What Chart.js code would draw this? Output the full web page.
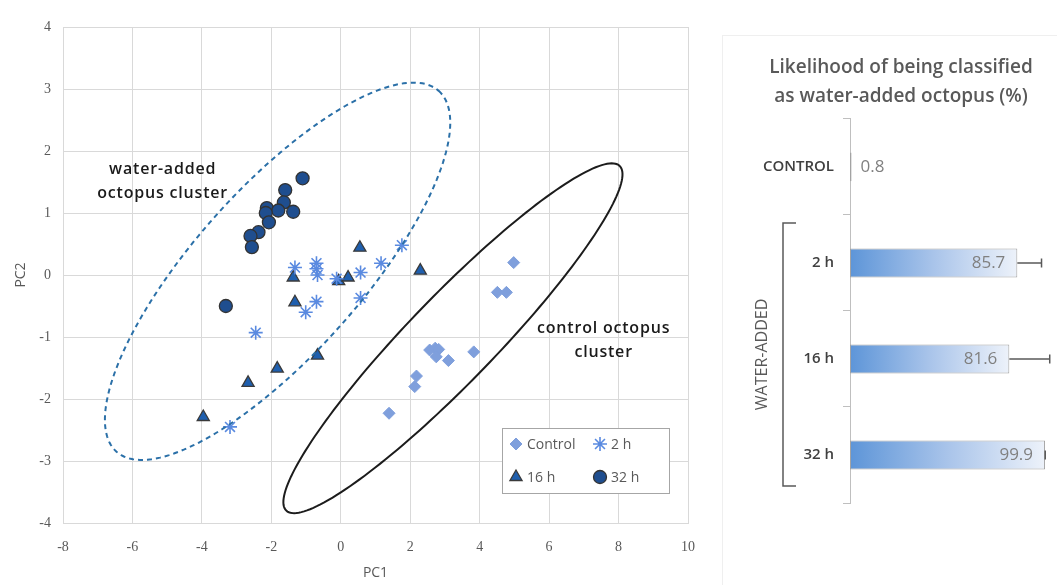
<!DOCTYPE html>
<html>
<head>
<meta charset="utf-8">
<script src="https://cdn.jsdelivr.net/npm/chart.js@4.4.1/dist/chart.umd.min.js"></script>
<style>
  html, body { margin: 0; background: #fff; }
  #wrap { position: relative; width: 1057px; height: 585px; overflow: hidden; }
  #pcaBox { position: absolute; left: 0; top: 0; width: 715px; height: 585px; }
  #barFrame { position: absolute; left: 722px; top: 35px; width: 340px; height: 560px; border-left: 1px solid #efefef; border-top: 1px solid #efefef; }
  #barBox { position: absolute; left: 722px; top: 0; width: 335px; height: 585px; }
</style>
</head>
<body>
<div id="wrap">
  <div id="pcaBox"><canvas id="pcaChart"></canvas></div>
  <div id="barFrame"></div>
  <div id="barBox"><canvas id="barChart"></canvas></div>
</div>
<script>
/* ---------- PCA scatter data (PC1, PC2) ---------- */
const control = [[4.98,0.20],[4.51,-0.28],[4.77,-0.28],[2.56,-1.21],[2.72,-1.18],[2.82,-1.20],
                 [2.75,-1.32],[3.10,-1.38],[3.83,-1.24],[2.18,-1.63],[2.13,-1.80],[1.39,-2.23]];
const h2  = [[1.76,0.48],[1.16,0.19],[-1.32,0.12],[-0.70,0.19],[-0.70,0.10],[-0.67,0.00],[0.57,0.04],
             [-0.12,-0.06],[0.57,-0.37],[-0.70,-0.43],[-1.01,-0.60],[-2.45,-0.93],[-3.19,-2.45]];
const h16 = [[0.55,0.44],[2.29,0.07],[-1.37,-0.04],[-0.06,-0.10],[0.21,-0.04],[-1.32,-0.44],
             [-0.67,-1.30],[-1.83,-1.51],[-2.67,-1.74],[-3.96,-2.29]];
const h32 = [[-1.10,1.56],[-1.60,1.37],[-1.64,1.17],[-2.13,1.08],[-1.80,1.04],[-1.37,1.02],
             [-2.16,1.00],[-2.07,0.85],[-2.37,0.69],[-2.60,0.63],[-2.56,0.45],[-3.31,-0.50]];
const seriesNames = ['Control', '2 h', '16 h', '32 h'];
const pc1Range = [-8, 10];
const pc2Range = [-4, 4];

// cluster ellipses in data units: centre + two conjugate semi-axes
const waterEllipse   = { c: [-1.82, 0.06], a: [4.64, 2.91], b: [1.79, -0.89] };
const controlEllipse = { c: [3.23, -1.02], a: [4.80, 2.78], b: [0.90, -0.48] };

/* ---------- classification likelihood data ---------- */
const groups = ['CONTROL', '2 h', '16 h', '32 h'];
const likelihood = [0.8, 85.7, 81.6, 99.9];
const likelihoodErr = [0, 12.4, 20.7, 0.1];

Chart.defaults.font.family = "'Open Sans', 'Noto Sans', sans-serif";

const styles = [
  { pointStyle: 'rectRot',  radius: 6,   backgroundColor: '#7f9fdc', borderColor: '#7f9fdc', borderWidth: 1 },
  { pointStyle: 'star',     radius: 7,   backgroundColor: '#5a8ae0', borderColor: '#5a8ae0', borderWidth: 1.6 },
  { pointStyle: 'triangle', radius: 7,   backgroundColor: '#1f5fae', borderColor: '#3a3a3a', borderWidth: 1.3 },
  { pointStyle: 'circle',   radius: 6.5, backgroundColor: '#1f4e8f', borderColor: '#333333', borderWidth: 1.3 }
];

function toPts(arr){ return arr.map(p => ({ x: p[0], y: p[1] })); }

function traceEllipse(chart, e){
  const sx = chart.scales.x, sy = chart.scales.y, ctx = chart.ctx;
  ctx.beginPath();
  for (let i = 0; i <= 180; i++) {
    const t = i / 180 * Math.PI * 2;
    const vx = e.c[0] + e.a[0]*Math.cos(t) + e.b[0]*Math.sin(t);
    const vy = e.c[1] + e.a[1]*Math.cos(t) + e.b[1]*Math.sin(t);
    const px = sx.getPixelForValue(vx), py = sy.getPixelForValue(vy);
    if (i === 0) ctx.moveTo(px, py); else ctx.lineTo(px, py);
  }
  ctx.closePath();
}

const pcaExtras = {
  id: 'pcaExtras',
  afterDatasetsDraw(chart){
    const ctx = chart.ctx, sx = chart.scales.x, sy = chart.scales.y, area = chart.chartArea;
    ctx.save();
    // dashed water-added cluster
    ctx.strokeStyle = '#2b70a8'; ctx.lineWidth = 2; ctx.setLineDash([5, 4]);
    traceEllipse(chart, waterEllipse); ctx.stroke();
    // control cluster
    ctx.setLineDash([]); ctx.strokeStyle = '#1c1c1c'; ctx.lineWidth = 2;
    traceEllipse(chart, controlEllipse); ctx.stroke();

    // cluster captions
    ctx.fillStyle = '#1a1a1a';
    ctx.font = "600 16px 'Open Sans'";
    ctx.letterSpacing = '0.8px';
    ctx.textAlign = 'center'; ctx.textBaseline = 'middle';
    let cx = sx.getPixelForValue(-5.13), cy = sy.getPixelForValue(1.51);
    ctx.fillText('water-added', cx, cy - 12);
    ctx.fillText('octopus cluster', cx, cy + 12);
    cx = sx.getPixelForValue(7.57); cy = sy.getPixelForValue(-1.05);
    ctx.fillText('control octopus', cx, cy - 12);
    ctx.fillText('cluster', cx, cy + 12);
    ctx.letterSpacing = '0px';

    // legend box inside the plot
    const lx = area.right - 186, ly = area.bottom - 95, lw = 167, lh = 65;
    ctx.fillStyle = '#fff'; ctx.fillRect(lx, ly, lw, lh);
    ctx.strokeStyle = '#a6a6a6'; ctx.lineWidth = 1;
    ctx.strokeRect(lx + 0.5, ly + 0.5, lw, lh);
    ctx.font = "14px 'Open Sans'"; ctx.textAlign = 'left';
    const cells = [[14, 16], [98, 16], [14, 49], [98, 49]];
    seriesNames.forEach((name, i) => {
      const [ox, oy] = cells[i], st = styles[i];
      ctx.fillStyle = st.backgroundColor; ctx.strokeStyle = st.borderColor; ctx.lineWidth = st.borderWidth;
      Chart.helpers.drawPoint(ctx, { pointStyle: st.pointStyle, radius: st.radius, rotation: 0, borderWidth: st.borderWidth },
        lx + ox, ly + oy);
      ctx.fillStyle = '#595959';
      ctx.fillText(name, lx + ox + 11, ly + oy + 1);
    });
    ctx.restore();
  }
};

new Chart(document.getElementById('pcaChart'), {
  type: 'scatter',
  data: {
    datasets: [control, h2, h16, h32].map((d, i) => ({
      label: seriesNames[i],
      data: toPts(d),
      pointStyle: styles[i].pointStyle,
      pointRadius: styles[i].radius,
      pointHoverRadius: styles[i].radius,
      backgroundColor: styles[i].backgroundColor,
      borderColor: styles[i].borderColor,
      pointBorderWidth: styles[i].borderWidth
    }))
  },
  options: {
    responsive: true, maintainAspectRatio: false, animation: false,
    layout: { padding: { left: 0, right: 27, top: 27, bottom: 0 } },
    plugins: { legend: { display: false }, tooltip: { enabled: false } },
    scales: {
      x: {
        type: 'linear', min: pc1Range[0], max: pc1Range[1],
        ticks: { stepSize: 2, padding: 16, color: '#595959', font: { family: "'Liberation Serif'", size: 14 } },
        grid: { color: '#d9d9d9', drawTicks: false },
        border: { color: '#d9d9d9' },
        title: { display: true, text: 'PC1', color: '#595959', font: { size: 14 }, padding: { top: 0, bottom: 4 } },
        afterFit: s => { s.height = 62; }
      },
      y: {
        type: 'linear', min: pc2Range[0], max: pc2Range[1],
        ticks: { stepSize: 1, padding: 12, color: '#595959', font: { family: "'Liberation Serif'", size: 14 } },
        grid: { color: '#d9d9d9', drawTicks: false },
        border: { color: '#d9d9d9' },
        title: { display: true, text: 'PC2', color: '#595959', font: { size: 14 }, padding: { top: 13, bottom: 0 } },
        afterFit: s => { s.width = 63; }
      }
    }
  },
  plugins: [pcaExtras]
});

/* ---------- bar chart ---------- */
const barExtras = {
  id: 'barExtras',
  afterDatasetsDraw(chart){
    const ctx = chart.ctx, sx = chart.scales.x, sy = chart.scales.y, area = chart.chartArea;
    const bars = chart.getDatasetMeta(0).data;
    ctx.save();
    // error bars
    ctx.strokeStyle = '#595959'; ctx.lineWidth = 1.5;
    bars.forEach((b, i) => {
      if (!likelihoodErr[i]) return;
      const xe = sx.getPixelForValue(likelihood[i] + likelihoodErr[i]);
      ctx.beginPath();
      ctx.moveTo(b.x, b.y); ctx.lineTo(xe, b.y);
      ctx.moveTo(xe, b.y - 4.5); ctx.lineTo(xe, b.y + 4.5);
      ctx.stroke();
    });
    // value labels
    ctx.font = "17px 'Open Sans'"; ctx.fillStyle = '#808080'; ctx.textBaseline = 'middle';
    bars.forEach((b, i) => {
      const txt = likelihood[i].toFixed(1);
      if (b.x - area.left < 60) { ctx.textAlign = 'left'; ctx.fillText(txt, b.x + 9, b.y); }
      else { ctx.textAlign = 'right'; ctx.fillText(txt, b.x - 12, b.y); }
    });
    // WATER-ADDED bracket
    const half = (sy.getPixelForValue(1) - sy.getPixelForValue(0)) / 2;
    const top = sy.getPixelForValue(1) - half + 8;
    const bot = sy.getPixelForValue(3) + half - 17;
    const bx = area.left - 67;
    ctx.strokeStyle = '#595959'; ctx.lineWidth = 1.5;
    ctx.beginPath();
    ctx.moveTo(bx + 13, top); ctx.lineTo(bx, top); ctx.lineTo(bx, bot); ctx.lineTo(bx + 13, bot);
    ctx.stroke();
    ctx.translate(area.left - 88, (top + bot) / 2);
    ctx.rotate(-Math.PI / 2);
    ctx.textAlign = 'center'; ctx.fillStyle = '#595959'; ctx.font = "16px 'Open Sans'";
    ctx.fillText('WATER-ADDED', 0, 0);
    ctx.restore();
  }
};

new Chart(document.getElementById('barChart'), {
  type: 'bar',
  data: {
    labels: groups,
    datasets: [{
      data: likelihood,
      backgroundColor: c => {
        const chart = c.chart;
        if (!chart.chartArea) return '#8fb4e4';
        const x0 = chart.scales.x.getPixelForValue(0);
        const x1 = chart.scales.x.getPixelForValue(likelihood[c.dataIndex]);
        const g = chart.ctx.createLinearGradient(x0, 0, Math.max(x1, x0 + 1), 0);
        g.addColorStop(0, '#5d95d8');
        g.addColorStop(0.5, '#a9c4ea');
        g.addColorStop(1, '#edf2fa');
        return g;
      },
      borderColor: '#a3a3a3',
      borderWidth: 1,
      borderSkipped: false,
      barPercentage: 0.3,
      categoryPercentage: 1
    }]
  },
  options: {
    indexAxis: 'y',
    responsive: true, maintainAspectRatio: false, animation: false,
    layout: { padding: { left: 25, right: 2, top: 0, bottom: 82 } },
    plugins: {
      legend: { display: false }, tooltip: { enabled: false },
      title: {
        display: true,
        text: ['Likelihood of being classified', 'as water-added octopus (%)'],
        color: '#595959',
        font: { size: 19, weight: '600', lineHeight: 1.52 },
        padding: { top: 53.5, bottom: 7.7 }
      }
    },
    scales: {
      x: { min: 0, max: 105, display: false },
      y: {
        grid: { display: true, drawOnChartArea: false, offset: true, color: '#bfbfbf', tickLength: 7 },
        border: { color: '#bfbfbf' },
        ticks: { color: '#404040', padding: 9, font: { size: 15, weight: '600' } },
        afterFit: s => { s.width = 103; }
      }
    }
  },
  plugins: [barExtras]
});
</script>
</body>
</html>
